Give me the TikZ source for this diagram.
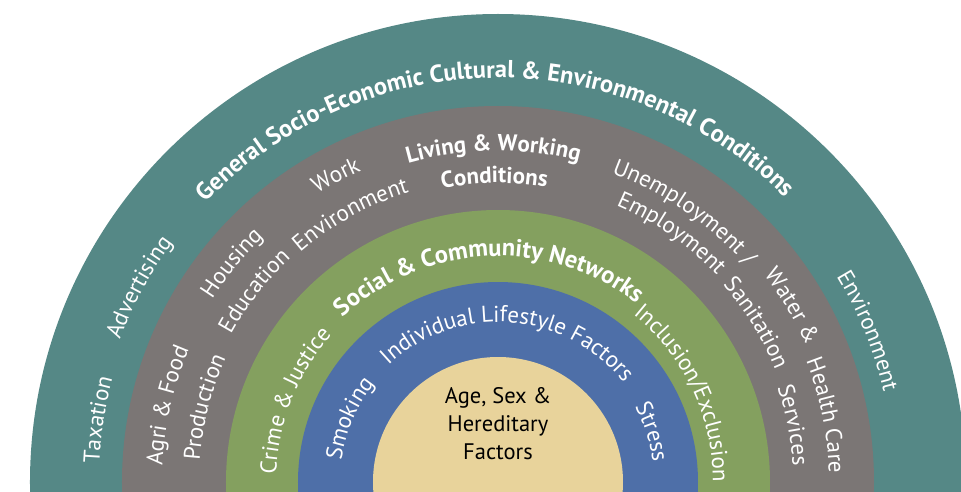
\documentclass[tikz,border=0pt]{standalone}
\usepackage{fontspec}
\setmainfont{PT Sans}
\usepackage{tikz}
\usetikzlibrary{decorations.text}
\definecolor{ringteal}{HTML}{558886}
\definecolor{ringgrey}{HTML}{7B7675}
\definecolor{ringgreen}{HTML}{84A05F}
\definecolor{ringblue}{HTML}{4E6FA8}
\definecolor{ringtan}{HTML}{E8D39B}

% text bent round the centre: [format] {angle} {radius} {text}
\newcommand{\ringtext}[4][]{%
  \path[decorate,decoration={text along path,text align=center,
    text={|\fontsize{23}{27}\selectfont\color{white}#1|#4}}]
    (#2+70:#3pt) arc[start angle=#2+70,end angle=#2-70,radius=#3pt];}

\begin{document}
\begin{tikzpicture}
[x=1pt,y=1pt,align=center]
\tikzstyle{core}=[text=black,font=\fontsize{22.5}{28}\selectfont]

\useasboundingbox (-498,-9) rectangle (463,482);
\clip (-498,-9) rectangle (463,482);

\fill [ringteal] (0,0) circle (468pt);
\fill [ringgrey] (0,0) circle (376pt);
\fill [ringgreen] (0,0) circle (272pt);
\fill [ringblue] (0,0) circle (200pt);
\fill [ringtan] (0,0) circle (125pt);

\draw node [core] (hered) at (0,58) {Age, Sex \&\\Hereditary\\Factors};

% outer ring
\ringtext[\fontsize{24.5}{28}\selectfont\bfseries]{90.5}{404}{General Socio-Economic Cultural {\&} Environmental Conditions}
\ringtext{171.2}{399}{Taxation}
\ringtext{151.5}{404}{Advertising}
\ringtext{22.2}{396}{Environment}

% living and working conditions
\ringtext[\bfseries]{90.8}{331}{Living {\&} Working}
\ringtext[\bfseries]{90.7}{299}{Conditions}
\ringtext{167}{336}{Agri {\&} Food}
\ringtext{165.7}{299}{Production}
\ringtext{140.6}{339}{Housing}
\ringtext{141.9}{305}{Education}
\ringtext{117.9}{340}{Work}
\ringtext{118.9}{303}{Environment}
\ringtext{55.4}{329}{Unemployment /}
\ringtext{55.1}{301}{Employment}
\ringtext{30.9}{337}{Water {\&}}
\ringtext{31.6}{299}{Sanitation}
\ringtext{11.5}{331}{Health Care}
\ringtext{10.9}{295}{Services}

% community ring
\ringtext[\fontsize{24.5}{28}\selectfont\bfseries]{92.8}{226}{Social {\&} Community Networks}
\ringtext{158.2}{222}{Crime {\&} Justice}
\ringtext{25.5}{215}{Inclusion/Exclusion}

% lifestyle ring
\ringtext{85.7}{160}{Individual Lifestyle Factors}
\ringtext{156.8}{158}{Smoking}
\ringtext{18}{156}{Stress}

\end{tikzpicture}
\end{document}
